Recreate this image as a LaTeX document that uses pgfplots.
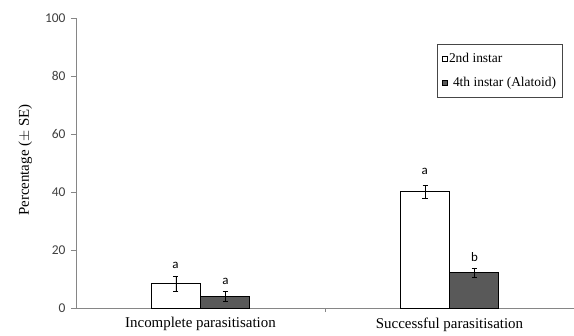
\documentclass[border=0pt]{standalone}
\usepackage{fontspec}
\setmainfont{Liberation Serif}
\newfontfamily\calibri{Carlito}
\usepackage{pgfplots}
\pgfplotsset{compat=1.18}
\definecolor{axgray}{RGB}{134,134,134}
\definecolor{bardark}{RGB}{89,89,89}
\definecolor{ticktxt}{RGB}{64,64,64}
\definecolor{legframe}{RGB}{70,70,70}
\begin{document}
\begin{tikzpicture}
\begin{axis}[
  scale only axis,
  width=498bp, height=290bp,
  xmin=-0.5, xmax=1.5,
  ymin=0, ymax=100,
  axis x line*=bottom, axis y line*=left,
  axis line style={axgray, line width=0.8bp},
  ytick={0,20,...,100},
  xtick={0,1},
  xticklabels={Incomplete parasitisation, Successful parasitisation},
  minor xtick={0.5,1.5},
  major x tick style={draw=none},
  minor x tick style={axgray, line width=0.8bp},
  y tick style={axgray, line width=0.8bp},
  tick align=outside,
  major tick length=5bp,
  minor tick length=4bp,
  /pgf/number format/assume math mode=true,
  yticklabel style={font=\calibri\fontsize{13.5}{14}\selectfont, text=ticktxt, xshift=-2bp},
  xticklabel style={font=\fontsize{15}{16}\selectfont, yshift=-1bp},
  ylabel={\fontsize{15}{16}\selectfont Percentage ($\pm$ SE)},
  ylabel style={at={(axis description cs:-0.102,0.51)}, anchor=center},
  legend cell align=left,
  legend style={at={(rel axis cs:0.9779,0.9103)}, anchor=north east, draw=legframe, line width=0.8bp,
    font=\fontsize{13.5}{14}\selectfont, row sep=9bp, inner xsep=5bp, inner ysep=7bp,
    nodes={inner xsep=1.5bp}},
  legend image code/.code={\draw[#1, line width=0.6bp] (0bp,-2.5bp) rectangle (5bp,2.5bp);},
  clip=false,
]
\addplot[ybar, bar width=49bp, bar shift=0pt, fill=white, draw=black, line width=0.6bp,
  error bars/.cd, y dir=both, y explicit,
  error bar style={black, line width=0.6bp},
  error mark options={rotate=90, mark size=2.5bp, black, line width=0.6bp}]
  coordinates {(-0.0984,8.4) +- (0,2.7) (0.9016,40.1) +- (0,2.3)};
\addlegendentry{2nd instar}
\addplot[ybar, bar width=49bp, bar shift=0pt, fill=bardark, draw=black, line width=0.6bp,
  error bars/.cd, y dir=both, y explicit,
  error bar style={black, line width=0.6bp},
  error mark options={rotate=90, mark size=2.5bp, black, line width=0.6bp}]
  coordinates {(0.0984,3.9) +- (0,1.7) (1.0984,12.2) +- (0,1.6)};
\addlegendentry{\hspace{4bp}4th instar (Alatoid)}
\addplot[draw=none, mark=none, forget plot,
  nodes near coords, point meta=explicit symbolic,
  every node near coord/.append style={anchor=center, font=\calibri\fontsize{13}{14}\selectfont}]
  coordinates {(-0.1,14.6)[a] (0.1,9.3)[a] (0.9,47.0)[a] (1.1,17.7)[b]};
\end{axis}
\pgfresetboundingbox
\useasboundingbox (-76bp,-28bp) rectangle (498bp,308bp);
\end{tikzpicture}
\end{document}
